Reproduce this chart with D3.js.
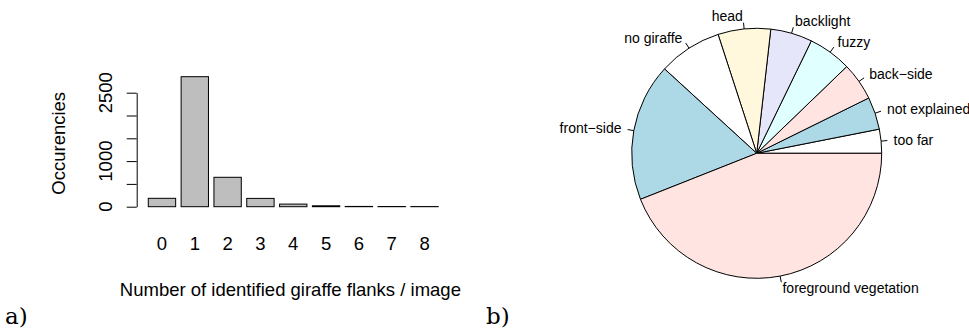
<!DOCTYPE html>
<html>
<head>
<meta charset="utf-8">
<script src="https://cdn.jsdelivr.net/npm/d3@7"></script>
<style>
  body { margin: 0; background: #fff; }
  text { font-family: "Liberation Sans", Arial, sans-serif; fill: #000; }
  .panel { font-family: "DejaVu Serif", serif; font-size: 23px; }
</style>
</head>
<body>
<div id="chart"></div>
<script>
// Data
var flankCounts = ["0", "1", "2", "3", "4", "5", "6", "7", "8"];
var occurrences = [184, 2851, 645, 182, 57, 20, 6, 4, 3];
var yTicks = [0, 500, 1000, 1500, 2000, 2500];
var yTickLabels = [0, 1000, 2500];

var failReasons = ["too far", "not explained", "back\u2212side", "fuzzy", "backlight",
                   "head", "no giraffe", "front\u2212side", "foreground vegetation"];
var failShares = [3.1, 4.2, 4.9, 5.6, 5.4, 6.8, 8.2, 17.8, 44.0];
var pieColors = ["#FFFFFF", "#ADD8E6", "#FFE4E1", "#E0FFFF", "#E6E6FA", "#FFF8DC"];

// SVG setup
var svgWidth = 969;
var svgHeight = 328;

var svg = d3.select("#chart").append("svg")
    .attr("width", svgWidth)
    .attr("height", svgHeight);

// ---- a) bar chart ----
var barLeft = 148.3, barRight = 438.2;

var xBand = d3.scaleBand()
    .domain(flankCounts)
    .range([barLeft, barRight])
    .paddingInner(1 / 6)
    .paddingOuter(0);

var yScale = d3.scaleLinear()
    .domain([0, 2500])
    .range([206.7, 92.7]);

var barGroup = svg.append("g");

barGroup.selectAll("rect")
    .data(occurrences)
    .enter()
    .append("rect")
    .attr("x", (d, i) => xBand(flankCounts[i]))
    .attr("y", d => yScale(d))
    .attr("width", xBand.bandwidth())
    .attr("height", d => yScale(0) - yScale(d))
    .attr("fill", "#BEBEBE")
    .attr("stroke", "#000")
    .attr("stroke-width", 1);

// y axis (R style: ticks outward, labels parallel to the axis)
var leftAxis = d3.axisLeft(yScale)
    .tickValues(yTicks)
    .tickSize(10)
    .tickSizeOuter(0)
    .tickFormat("");

var axisG = barGroup.append("g")
    .attr("transform", "translate(136.7,0)")
    .call(leftAxis);
axisG.selectAll("path, line").attr("stroke", "#000").attr("stroke-width", 1);

barGroup.selectAll(".ylab")
    .data(yTickLabels)
    .enter()
    .append("text")
    .attr("class", "ylab")
    .attr("transform", d => `translate(112, ${yScale(d)}) rotate(-90)`)
    .attr("text-anchor", "middle")
    .attr("font-size", "18.5px")
    .text(d => d);

// category labels under the bars
barGroup.selectAll(".xlab")
    .data(flankCounts)
    .enter()
    .append("text")
    .attr("class", "xlab")
    .attr("x", d => xBand(d) + xBand.bandwidth() / 2)
    .attr("y", 249.8)
    .attr("text-anchor", "middle")
    .attr("font-size", "18.5px")
    .text(d => d);

// axis titles
barGroup.append("text")
    .attr("x", 290.4)
    .attr("y", 295.5)
    .attr("text-anchor", "middle")
    .attr("font-size", "18.5px")
    .text("Number of identified giraffe flanks / image");

barGroup.append("text")
    .attr("transform", "translate(65, 143.3) rotate(-90)")
    .attr("text-anchor", "middle")
    .attr("font-size", "18.5px")
    .text("Occurencies");

// ---- b) pie chart ----
var cx = 756.7, cy = 153.3, radius = 125;

// R draws counter-clockwise from 3 o'clock
var pie = d3.pie()
    .sort(null)
    .startAngle(Math.PI / 2)
    .endAngle(Math.PI / 2 - 2 * Math.PI);

var arcs = pie(failShares);
var arc = d3.arc().innerRadius(0).outerRadius(radius);

var pieGroup = svg.append("g")
    .attr("transform", `translate(${cx}, ${cy})`);

pieGroup.selectAll("path")
    .data(arcs)
    .enter()
    .append("path")
    .attr("d", arc)
    .attr("fill", (d, i) => pieColors[i % pieColors.length])
    .attr("stroke", "#000")
    .attr("stroke-width", 1)
    .attr("stroke-linejoin", "round");

function midAngle(d) { return (d.startAngle + d.endAngle) / 2; }

pieGroup.selectAll(".tick-line")
    .data(arcs)
    .enter()
    .append("line")
    .attr("class", "tick-line")
    .attr("x1", d => radius * Math.sin(midAngle(d)))
    .attr("y1", d => -radius * Math.cos(midAngle(d)))
    .attr("x2", d => 1.05 * radius * Math.sin(midAngle(d)))
    .attr("y2", d => -1.05 * radius * Math.cos(midAngle(d)))
    .attr("stroke", "#000")
    .attr("stroke-width", 1);

pieGroup.selectAll(".slice-label")
    .data(arcs)
    .enter()
    .append("text")
    .attr("class", "slice-label")
    .attr("x", d => 1.1 * radius * Math.sin(midAngle(d)))
    .attr("y", d => -1.1 * radius * Math.cos(midAngle(d)))
    .attr("dy", "0.35em")
    .attr("text-anchor", d => Math.sin(midAngle(d)) < 0 ? "end" : "start")
    .attr("font-size", "14px")
    .text((d, i) => failReasons[i]);

// panel letters
svg.append("text").attr("class", "panel").attr("x", 5).attr("y", 324).text("a)");
svg.append("text").attr("class", "panel").attr("x", 486).attr("y", 324).text("b)");
</script>
</body>
</html>
